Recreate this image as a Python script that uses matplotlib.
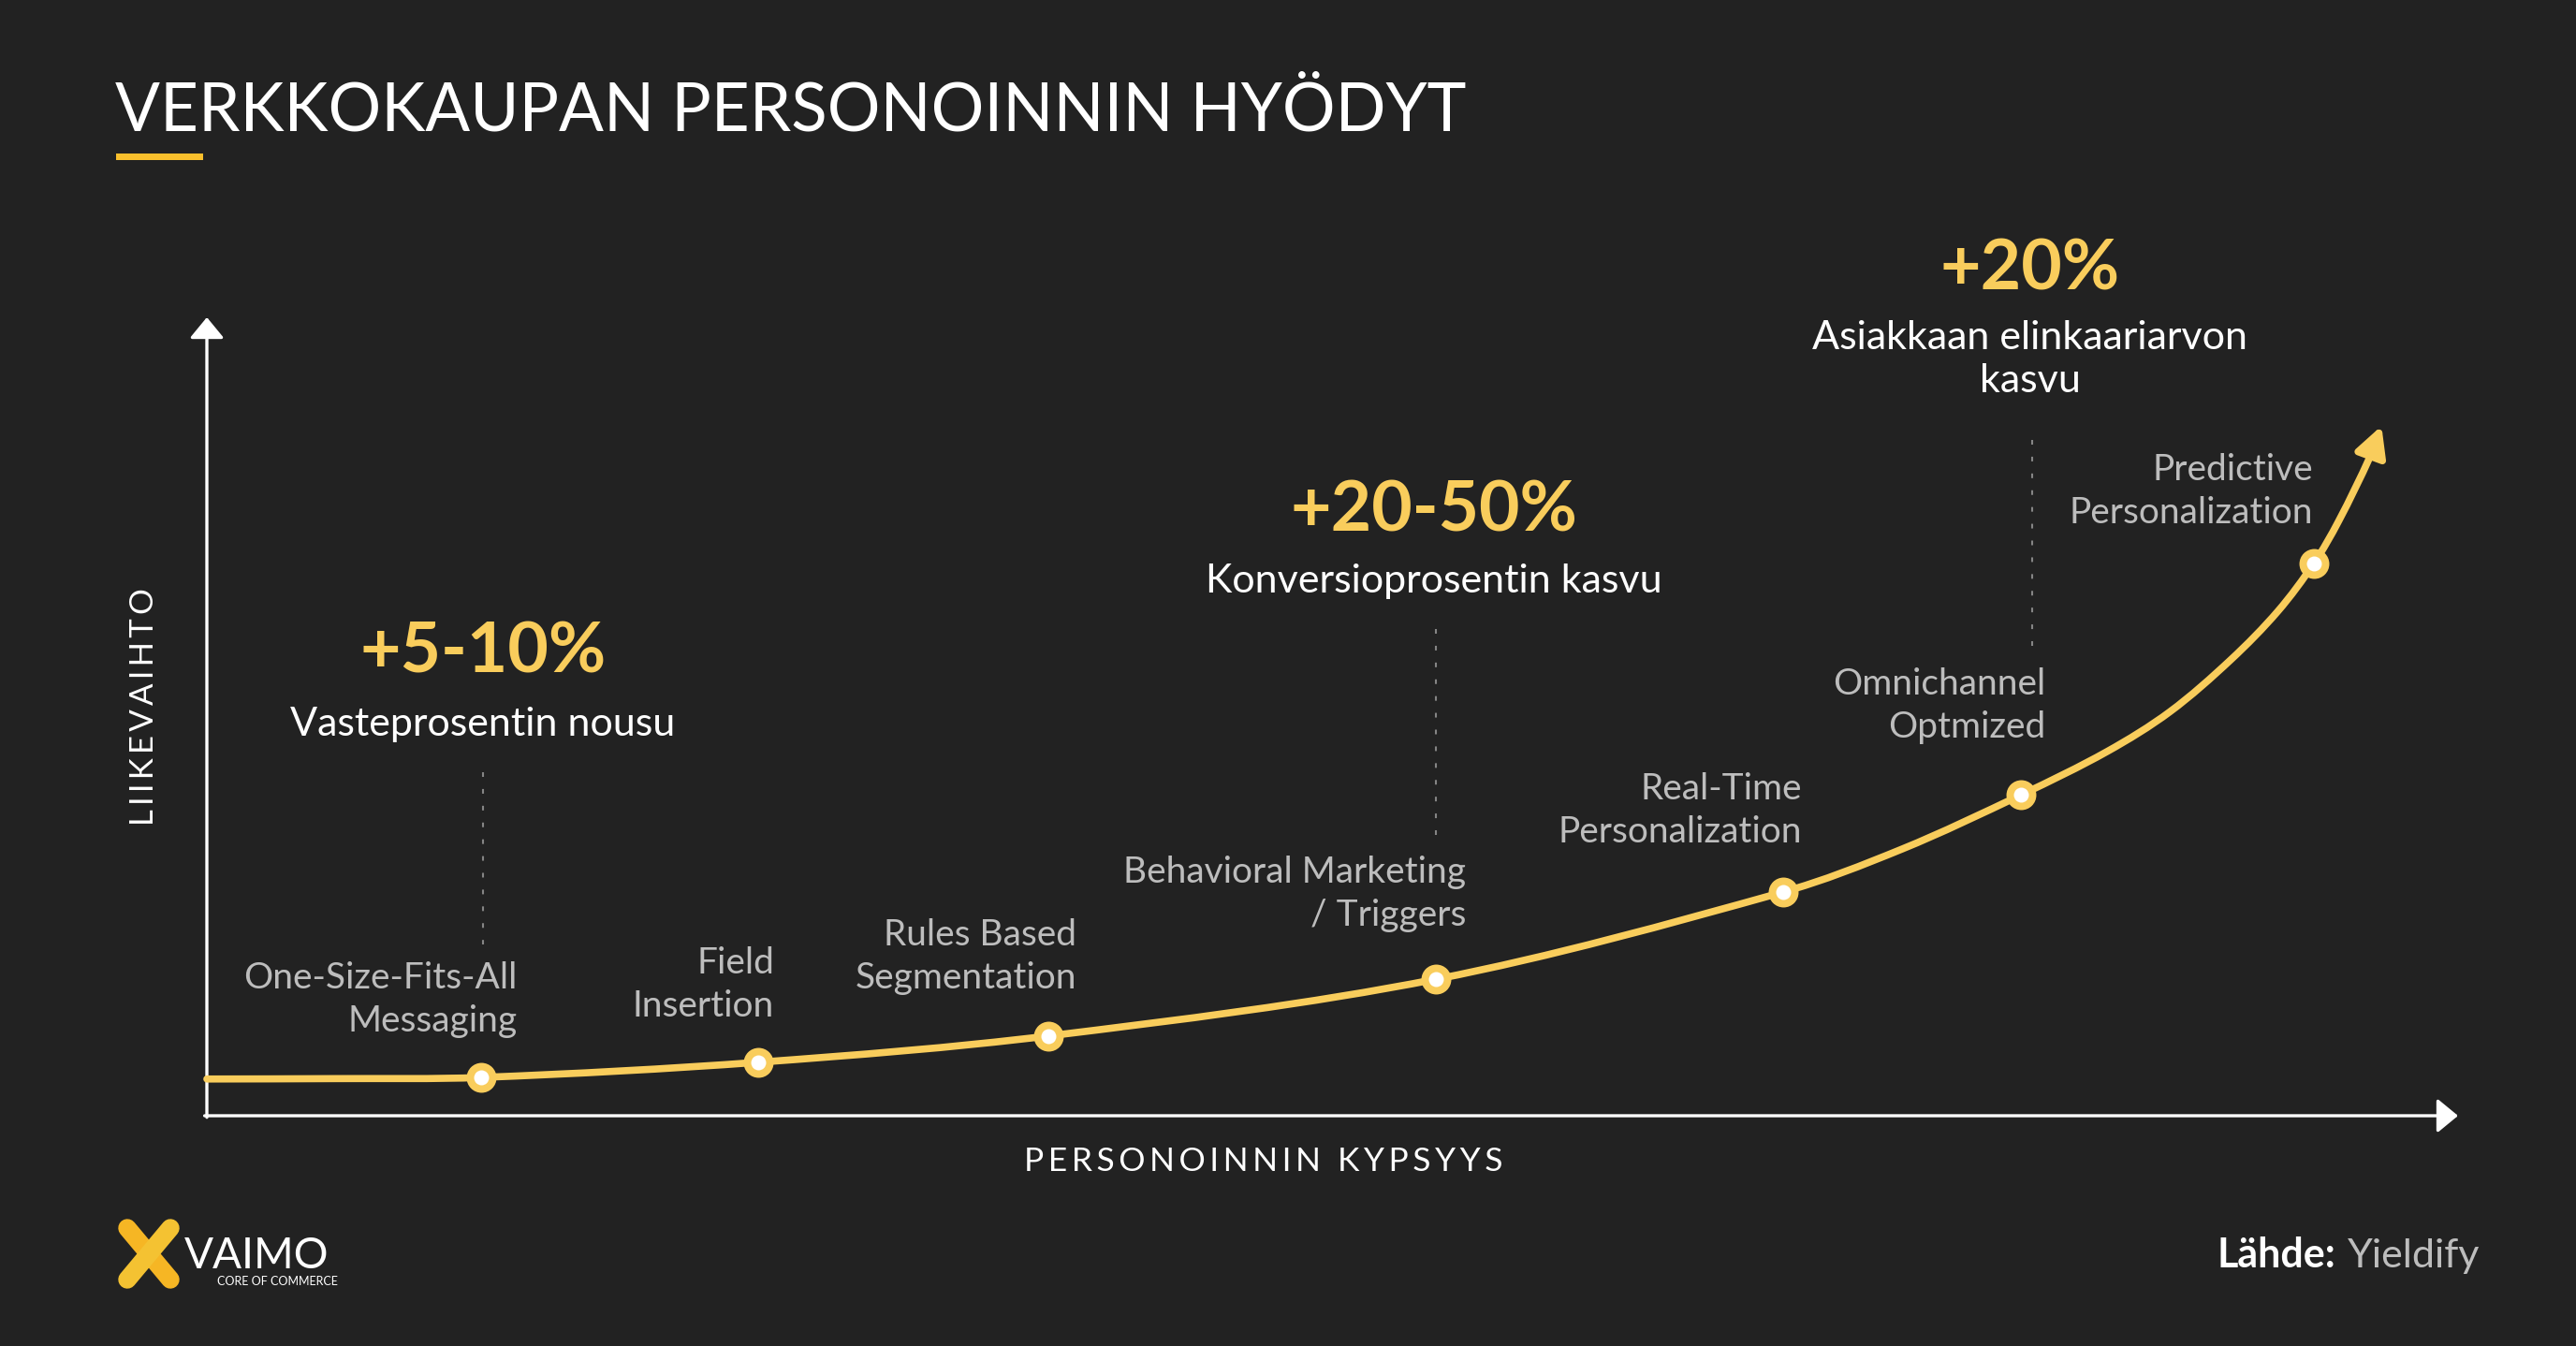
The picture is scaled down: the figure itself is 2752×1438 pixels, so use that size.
import matplotlib
matplotlib.use('Agg')
import matplotlib.pyplot as plt
import numpy as np
from matplotlib.path import Path
from matplotlib.patches import FancyArrowPatch, Rectangle

# --- data ------------------------------------------------------------------
stages = ["One-Size-Fits-All\nMessaging", "Field\nInsertion", "Rules Based\nSegmentation",
          "Behavioral Marketing\n/ Triggers", "Real-Time\nPersonalization",
          "Omnichannel\nOptmized", "Predictive\nPersonalization"]
maturity = [12.2, 24.5, 37.4, 54.6, 70.0, 80.6, 93.6]     # x, 0..100
revenue = [4.8, 6.7, 10.0, 17.1, 28.0, 40.2, 69.2]        # y, 0..100

# points (incl. the stage points and arrow tip)
curve_x = [0.0, 5.7, 12.2, 24.5, 37.4, 54.6, 70.0, 75.3, 80.6, 84.4, 87.2, 89.9, 92.0,
           93.6, 94.7, 96.1, 96.6]
curve_y = [4.6, 4.65, 4.8, 6.7, 10.0, 17.1, 28.0, 33.4, 40.2, 45.6, 50.6, 57.1, 63.2,
           69.2, 74.5, 82.6, 86.4]

benefits = ["+5-10%", "+20-50%", "+20%"]
benefit_text = ["Vasteprosentin nousu", "Konversioprosentin kasvu",
                "Asiakkaan elinkaariarvon\nkasvu"]

title = "VERKKOKAUPAN PERSONOINNIN HYÖDYT"
xlabel = "PERSONOINNIN KYPSYYS"
ylabel = "LIIKEVAIHTO"

# --- layout (pixels) --------------------------------------------------------
W, H = 2752, 1438
BG = '#222222'
YEL = '#F9CD5C'
GREY = '#BDBDBD'
FONT = 'Lato'

label_right = [553, 827, 1150, 1566, 1925, 2185, 2471]
label_y = [1068, 1052, 1022, 955, 866, 754, 525]
benefit_x = [516, 1532, 2169]
benefit_y = [697, 546, 288]
benefit_sub_y = [774, 621, 384]
guide_x = [516, 1534, 2171]
guide_y = [(825, 1009), (672, 895), (470, 698)]

AX_L, AX_R, AX_T, AX_B = 221, 2626, 339, 1192

fig = plt.figure(figsize=(W / 100, H / 100), dpi=100, facecolor=BG)

# overlay in pixel coordinates for text and decorations
ov = fig.add_axes([0, 0, 1, 1])
ov.set_xlim(0, W)
ov.set_ylim(H, 0)
ov.axis('off')

# chart axes
ax = fig.add_axes([AX_L / W, (H - AX_B) / H, (AX_R - AX_L) / W, (AX_B - AX_T) / H])
ax.set_xlim(0, 100)
ax.set_ylim(0, 100)
ax.axis('off')

# axis arrows
axis_arrow = dict(arrowstyle='-|>,head_length=0.68,head_width=0.56', mutation_scale=20,
                  color='white', lw=2.4, shrinkA=0, shrinkB=0)
ax.annotate('', xy=(0, 1), xytext=(0, -0.002), xycoords='axes fraction', arrowprops=axis_arrow)
ax.annotate('', xy=(1, 0), xytext=(-0.001, 0), xycoords='axes fraction', arrowprops=axis_arrow)

# smooth curve through the traced points (chord-length Catmull-Rom -> cubic Bezier)
P = np.column_stack([curve_x, curve_y])
scale = np.array([(AX_R - AX_L) / 100, (AX_B - AX_T) / 100])
seg = np.hypot(*(np.diff(P, axis=0) * scale).T)
t = np.concatenate([[0], np.cumsum(seg)])
n = len(P)
m = np.zeros_like(P)
m[0] = (P[1] - P[0]) / (t[1] - t[0])
m[-1] = (P[-1] - P[-2]) / (t[-1] - t[-2])
for i in range(1, n - 1):
    m[i] = (P[i + 1] - P[i - 1]) / (t[i + 1] - t[i - 1])
verts = [P[0]]
codes = [Path.MOVETO]
for i in range(n - 1):
    dt = t[i + 1] - t[i]
    verts += [P[i] + m[i] * dt / 3, P[i + 1] - m[i + 1] * dt / 3, P[i + 1]]
    codes += [Path.CURVE4] * 3
curve = FancyArrowPatch(path=Path(verts, codes),
                        arrowstyle='-|>,head_length=0.95,head_width=0.5',
                        mutation_scale=20, color=YEL, lw=5.5, transform=ax.transData,
                        clip_on=False, zorder=3)
ax.add_patch(curve)

# stage markers
ax.plot(maturity, revenue, 'o', ms=23, color=YEL, mec='none', clip_on=False, zorder=4)
ax.plot(maturity, revenue, 'o', ms=11.5, color='white', mec='none', clip_on=False, zorder=5)

# stage labels
for lab, rx, cy in zip(stages, label_right, label_y):
    ov.text(rx, cy, lab, ha='right', va='center', fontsize=28, color=GREY,
            family=FONT, linespacing=1.32)

# benefit callouts
for big, sub, bx, by, sy in zip(benefits, benefit_text, benefit_x, benefit_y, benefit_sub_y):
    ov.text(bx, by, big, ha='center', va='center', fontsize=54, color=YEL,
            family=FONT, fontweight='bold')
    ov.text(bx, sy, sub, ha='center', va='center', fontsize=31, color='white',
            family=FONT, linespacing=1.25)
for gx, (y0, y1) in zip(guide_x, guide_y):
    ov.plot([gx, gx], [y0, y1], color='#858585', lw=1.5, ls=(0, (2.4, 6.2)))

# axis titles (letter-spaced)
sp = '\u200a\u200a'
ov.text(1350, 1241, sp.join(xlabel), ha='center', va='center', fontsize=25.5,
        color='white', family=[FONT, 'DejaVu Sans'])
ov.text(154, 755, sp.join(ylabel), ha='center', va='center', fontsize=25,
        color='white', family=[FONT, 'DejaVu Sans'], rotation=90)

# title + underline
ov.text(123, 139, title, ha='left', va='baseline', fontsize=51, color='white', family=FONT)
ov.add_patch(Rectangle((124, 164), 93, 7, color='#F9BF2C', lw=0))

# source
ov.text(2495, 1354, 'Lähde:', ha='right', va='baseline', fontsize=31, color='white',
        family=FONT, fontweight='bold')
ov.text(2508, 1354, 'Yieldify', ha='left', va='baseline', fontsize=31, color=GREY, family=FONT)

# VAIMO logo
ov.plot([136, 182], [1312, 1367], color='#F6B624', lw=14, solid_capstyle='round')
ov.plot([182, 136], [1312, 1367], color='#F4C232', lw=14, solid_capstyle='round')
ov.text(197, 1355, 'VAIMO', ha='left', va='baseline', fontsize=33, color='white',
        family=FONT)
ov.text(232, 1373, 'CORE OF COMMERCE', ha='left', va='baseline', fontsize=9, color='white',
        family=FONT)

fig.savefig('out.png', dpi=100, facecolor=BG)
